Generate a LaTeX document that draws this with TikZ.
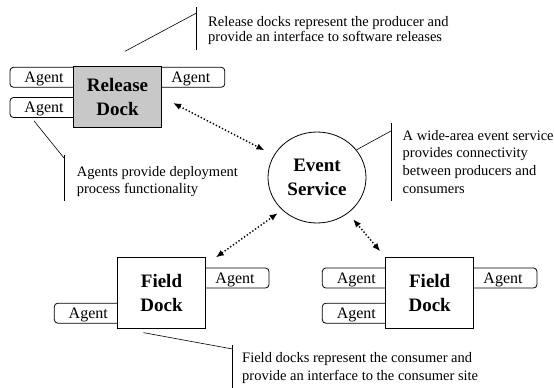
\documentclass[tikz,border=0pt]{standalone}
\usepackage{fontspec}
\setmainfont{Liberation Serif}
\usetikzlibrary{shapes.geometric}
\usetikzlibrary{arrows.meta}
\definecolor{color-release}{RGB}{200,200,200}

\begin{document}
\begin{tikzpicture}[x=1pt, y=1pt, >={Latex[length=8pt,width=6.5pt]},
dock/.style={draw, line width=0.8pt, fill=white, minimum width=88pt, minimum height=70.5pt, inner sep=0pt, align=center, font=\fontsize{19}{24}\selectfont\bfseries},
agent/.style={draw, line width=0.8pt, rounded corners=3.5pt, minimum width=68pt, minimum height=20pt, inner sep=0pt, text depth=0pt, font=\fontsize{16}{18}\selectfont},
link/.style={<->, dotted, line width=1.4pt},
note/.style={anchor=north west, inner sep=0pt, align=left, font=\fontsize{14.5}{17.6}\selectfont},
lead/.style={line width=0.6pt}]
\useasboundingbox (0,0) rectangle (554,-388);

% agents (the docks cover their inner ends)
\node[agent] (ag-rl1) at (44,-77.3) {Agent};
\node[agent] (ag-rl2) at (44,-107.5) {Agent};
\node[agent] (ag-rr) at (190.8,-77.3) {Agent};
\node[agent] (ag-f1l) at (88.3,-313.2) {Agent};
\node[agent] (ag-f1r) at (235,-278) {Agent};
\node[agent] (ag-f2l1) at (356.3,-278) {Agent};
\node[agent] (ag-f2l2) at (356.3,-313.2) {Agent};
\node[agent] (ag-f2r) at (503,-278) {Agent};

% docks
\node[dock, fill=color-release, minimum height=61pt] (rd) at (117.5,-97.2) {Release\\Dock};
\node[dock] (fd1) at (161.5,-293) {Field\\Dock};
\node[dock] (fd2) at (429.7,-293) {Field\\Dock};

% event service
\node[draw, ellipse, line width=0.8pt, minimum width=98pt, minimum height=91pt, inner sep=0pt, align=center, font=\fontsize{19}{24}\selectfont\bfseries] (es) at (317,-177.5) {Event\\Service};

% links
\draw[link, shorten <=12.6pt, shorten >=10.6pt] (rd.east) -- (es);
\draw[link, shorten >=5.5pt] ([xshift=10pt]fd1.north east) -- (es.223);
\draw[link, shorten <=8pt, shorten >=8pt] (fd2.north west) -- (es.-49);

% release note
\coordinate (rel-top) at (196.5,-7);
\coordinate (rel-bot) at (196.5,-50);
\coordinate (rel-hook) at (196.5,-13);
\draw[lead] (rel-top) -- (rel-bot);
\draw[lead] ([shift={(7.5,15)}]rd.north) -- (rel-hook);
\node[note, font=\fontsize{14.5}{15.7}\selectfont] (rel-text) at (208,-16) {Release docks represent the producer and\\provide an interface to software releases};

% agent note
\coordinate (ag-top) at (64,-155);
\coordinate (ag-bot) at (64,-201);
\coordinate (ag-hook) at (64,-158);
\draw[lead] (ag-top) -- (ag-bot);
\draw[lead] ([shift={(-10,-3)}]ag-rl2.south) -- (ag-hook);
\node[note] (ag-text) at (76.7,-166) {Agents provide deployment\\process functionality};

% event note
\coordinate (ev-top) at (391,-123);
\coordinate (ev-bot) at (391,-201);
\coordinate (ev-hook) at (391,-131);
\draw[lead] (ev-top) -- (ev-bot);
\draw[lead] (es.35) -- (ev-hook);
\node[note] (ev-text) at (402.5,-130) {A wide-area event service\\provides connectivity\\between producers and\\consumers};

% field note
\coordinate (fd-top) at (232.5,-345);
\coordinate (fd-bot) at (232.5,-388);
\coordinate (fd-hook) at (232.5,-349);
\draw[lead] (fd-top) -- (fd-bot);
\draw[lead] ([shift={(-18,-4)}]fd1.south) -- (fd-hook);
\node[note] (fd-text) at (242,-352.4) {Field docks represent the consumer and\\provide an interface to the consumer site};
\end{tikzpicture}
\end{document}
